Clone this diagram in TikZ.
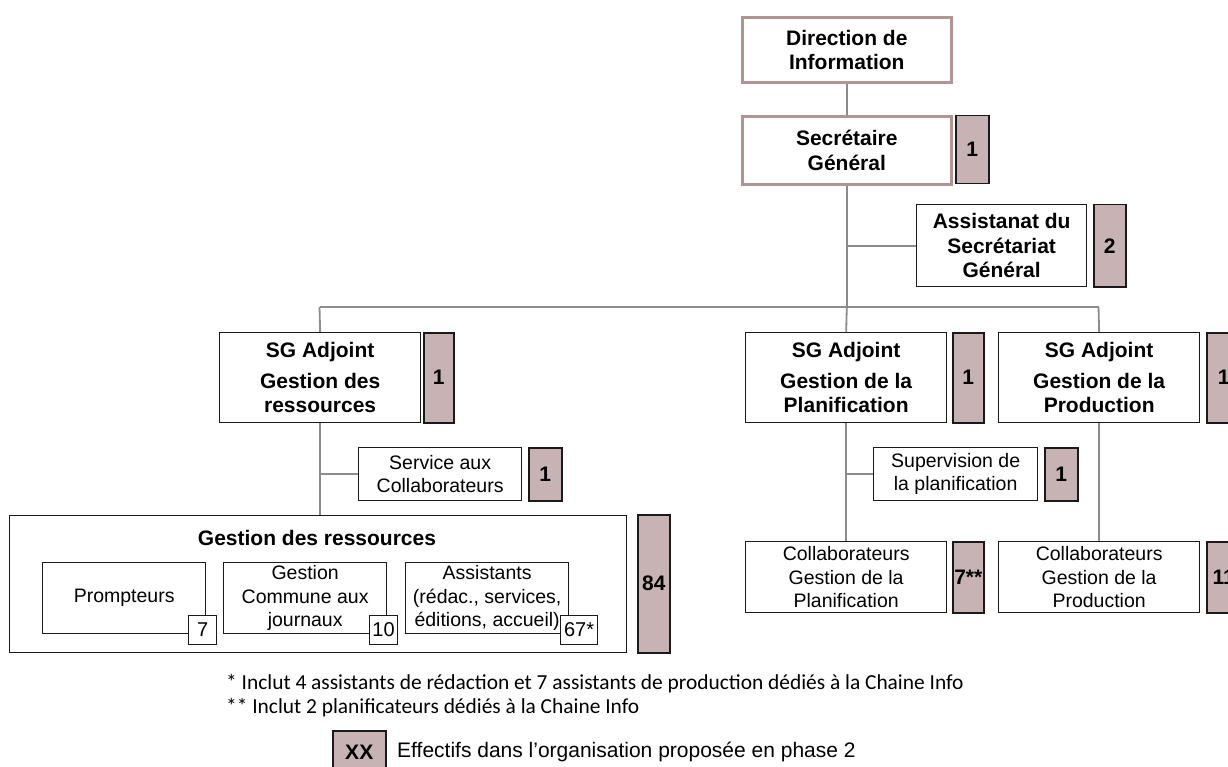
\documentclass[tikz,border=0pt]{standalone}
\usepackage{fontspec}
\setmainfont{Liberation Sans}
\newfontfamily\notefont{Carlito}

\definecolor{roseborder}{HTML}{B39494}
\definecolor{badgefill}{HTML}{C8B3B4}
\definecolor{linkgray}{HTML}{8C8C8C}
\definecolor{boxline}{HTML}{1A1A1A}

\tikzset{
  unit/.style={draw=boxline, line width=1.3pt, fill=white, inner sep=0pt,
    anchor=north west, align=center},
  headunit/.style={unit, draw=roseborder, line width=2.6pt,
    font=\bfseries\fontsize{21}{24.5}\selectfont},
  boldunit/.style={unit, font=\bfseries\fontsize{21}{24.5}\selectfont},
  plainunit/.style={unit, font=\fontsize{19.5}{23.3}\selectfont},
  badge/.style={draw=boxline, fill=badgefill, line width=1.5pt, inner sep=0pt,
    anchor=north west, font=\bfseries\fontsize{21}{24}\selectfont},
  tag/.style={draw=boxline, fill=white, line width=1.2pt, inner sep=0pt,
    anchor=north west, font=\fontsize{20}{23}\selectfont},
  link/.style={draw=linkgray, line width=1.8pt},
  footnote/.style={anchor=base west, inner sep=0pt,
    font=\notefont\fontsize{21.4}{24}\selectfont},
}

\begin{document}
\begin{tikzpicture}[x=1pt, y=-1pt]
  \path[use as bounding box] (0,0) rectangle (1228,767);
  \clip (0,0) rectangle (1228,767);

  % direction and general secretariat
  \node[headunit, minimum width=209, minimum height=65] (dir) at (741,16)
    {Direction de\\Information};
  \node[headunit, minimum width=209, minimum height=68] (sg) at (741,115)
    {Secrétaire\\Général};
  \node[badge, minimum width=33, minimum height=68] (sgN) at (955,115) {1};

  \node[boldunit, minimum width=170, minimum height=82] (asst) at (916,204)
    {Assistanat du\\Secrétariat\\Général};
  \node[badge, minimum width=32, minimum height=82] (asstN) at (1093,204) {2};

  % deputy secretaries
  \node[boldunit, minimum width=201, minimum height=90] (resA) at (219,332)
    {SG Adjoint\\[6pt]Gestion des\\ressources};
  \node[badge, minimum width=30, minimum height=90] (resAN) at (423,332) {1};

  \node[boldunit, minimum width=201, minimum height=90] (plaA) at (745,332)
    {SG Adjoint\\[6pt]Gestion de la\\Planification};
  \node[badge, minimum width=31, minimum height=90] (plaAN) at (952,332) {1};

  \node[boldunit, minimum width=201, minimum height=90] (proA) at (998,332)
    {SG Adjoint\\[6pt]Gestion de la\\Production};
  \node[badge, minimum width=34, minimum height=90] (proAN) at (1206,332) {1};

  % services under the deputies
  \node[plainunit, minimum width=163, minimum height=53] (svc) at (358,447)
    {Service aux\\Collaborateurs};
  \node[badge, minimum width=33, minimum height=53] (svcN) at (528,447) {1};

  \node[plainunit, minimum width=164, minimum height=53] (sup) at (873,447)
    {Supervision de\\la planification};
  \node[badge, minimum width=33, minimum height=53] (supN) at (1044,447) {1};

  \node[plainunit, minimum width=201, minimum height=71] (colP) at (745,541)
    {Collaborateurs\\Gestion de la\\Planification};
  \node[badge, minimum width=31, minimum height=71] (colPN) at (952,541) {7**};

  \node[plainunit, minimum width=201, minimum height=71] (colR) at (998,541)
    {Collaborateurs\\Gestion de la\\Production};
  \node[badge, minimum width=34, minimum height=71] (colRN) at (1206,541) {11};

  % resource management block
  \node[unit, minimum width=617, minimum height=137] (res) at (9,515) {};
  \node[font=\bfseries\fontsize{21}{24}\selectfont, anchor=center] (resT)
    at (317,538) {Gestion des ressources};
  \node[badge, minimum width=32, minimum height=138] (resN) at (637,514) {84};

  \node[plainunit, minimum width=163, minimum height=71] (prm) at (42,562)
    {Prompteurs};
  \node[tag, minimum width=28, minimum height=29] (prmN) at (188,615) {7};

  \node[plainunit, minimum width=163, minimum height=71] (gcj) at (223,562)
    {Gestion\\Commune aux\\journaux};
  \node[tag, minimum width=28, minimum height=29] (gcjN) at (369,615) {10};

  \node[plainunit, minimum width=163, minimum height=71] (ast) at (405,562)
    {Assistants\\(rédac., services,\\éditions, accueil)};
  \node[tag, minimum width=37, minimum height=29] (astN) at (560,615) {67*};

  % connectors
  \coordinate (busL) at (319.5,307);
  \coordinate (busR) at (1098.5,307);
  \draw[link] (dir.south) -- (sg.north);
  \draw[link] (sg.south) -- (sg.south |- busL);
  \draw[link] (sg.south |- asst.west) -- (asst.west);
  \draw[link] (busL) -- (busR);
  \draw[link] (busL) -- (resA.north);
  \draw[link] (sg.south |- busL) -- (plaA.north);
  \draw[link] (busR) -- (proA.north);
  \draw[link] (resA.south) -- (resA.south |- res.north);
  \draw[link] (resA.south |- svc.west) -- (svc.west);
  \draw[link] (plaA.south) -- (colP.north);
  \draw[link] (plaA.south |- sup.west) -- (sup.west);
  \draw[link] (proA.south) -- (colR.north);

  % footnotes and legend
  \node[footnote] (note1) at (226,689)
    {* Inclut 4 assistants de rédaction et 7 assistants de production dédiés à la Chaine Info};
  \node[footnote] (note2) at (226,713)
    {** Inclut 2 planificateurs dédiés à la Chaine Info};
  \node[badge, minimum width=53, minimum height=44] (key) at (332,730) {XX};
  \node[anchor=west, inner sep=0pt,
    font=\fontsize{21}{24}\selectfont] (keyT) at (397,752)
    {Effectifs dans l’organisation proposée en phase 2};
\end{tikzpicture}
\end{document}
